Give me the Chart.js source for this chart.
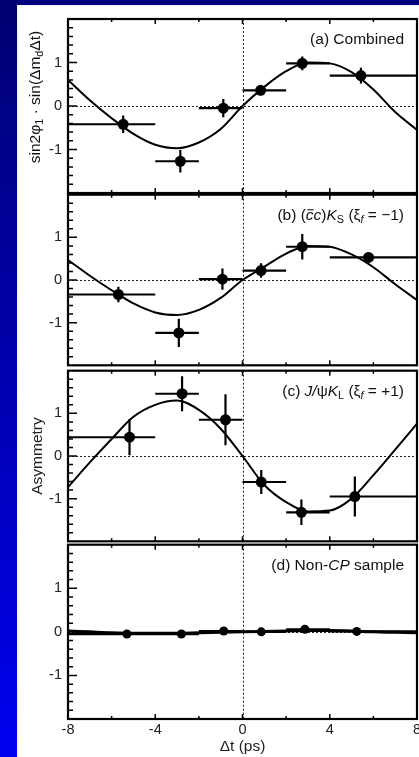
<!DOCTYPE html>
<html>
<head>
<meta charset="utf-8">
<script src="https://cdn.jsdelivr.net/npm/chart.js@4.4.1/dist/chart.umd.min.js"></script>
<style>
  html, body { margin: 0; padding: 0; width: 419px; height: 757px; overflow: hidden; background: #fff; }
  #strip-top { position: absolute; left: 0; top: 0; width: 419px; height: 5px; background: #000080; }
  #strip-left { position: absolute; left: 0; top: 0; width: 17px; height: 757px; background: linear-gradient(#000072, #0000f0); }
  canvas { position: absolute; left: 0; }
</style>
</head>
<body>
<div id="strip-top"></div>
<div id="strip-left"></div>
<canvas id="pa" width="430" height="210" style="top:0px"></canvas>
<canvas id="pb" width="430" height="200" style="top:180px"></canvas>
<canvas id="pc" width="430" height="200" style="top:356px"></canvas>
<canvas id="pd" width="430" height="227" style="top:530px"></canvas>
<script>
// Δt bins (ps), same for all four samples
const binLo = [-8, -4, -2, 0, 2, 4];
const binHi = [-4, -2, 0, 2, 4, 8];
const yTicks = [-1, 0, 1];
const xTicks = [-8, -4, 0, 4, 8];

// (a) combined
const combinedX = [-5.47, -2.85, -0.88, 0.83, 2.74, 5.43];
const combinedY = [-0.42, -1.27, -0.05, 0.36, 0.98, 0.70];
const combinedErr = [0.20, 0.26, 0.21, 0.11, 0.16, 0.18];

// (b) (cc)Ks
const ksX = [-5.69, -2.92, -0.92, 0.85, 2.74, 5.78];
const ksY = [-0.34, -1.24, 0.02, 0.22, 0.78, 0.53];
const ksErr = [0.18, 0.33, 0.25, 0.17, 0.30, 0.11];

// (c) J/psi KL
const klX = [-5.18, -2.77, -0.78, 0.86, 2.70, 5.15];
const klY = [0.44, 1.46, 0.85, -0.61, -1.32, -0.95];
const klErr = [0.42, 0.41, 0.60, 0.28, 0.30, 0.47];

// (d) non-CP control sample
const nonCpX = [-5.30, -2.80, -0.86, 0.86, 2.86, 5.24];
const nonCpY = [-0.05, -0.05, 0.02, 0.00, 0.06, 0.01];
const nonCpErr = [0.03, 0.03, 0.03, 0.03, 0.03, 0.03];

// fit curves at whole ps
const curveT = [-8, -7, -6, -5, -4, -3, -2, -1, 0, 1, 2, 3, 4, 5, 6, 7, 8];
const combinedFit = [0.60, 0.13, -0.28, -0.64, -0.89, -0.97, -0.84, -0.53, 0, 0.44, 0.80, 1.00, 0.98, 0.78, 0.38, -0.14, -0.55];
const ksFit = [0.47, 0.10, -0.24, -0.55, -0.76, -0.82, -0.70, -0.42, 0, 0.31, 0.62, 0.80, 0.78, 0.60, 0.30, -0.10, -0.47];
const klFit = [-0.73, -0.15, 0.40, 0.92, 1.20, 1.30, 1.08, 0.64, 0, -0.68, -1.08, -1.30, -1.28, -1.00, -0.45, 0.15, 0.76];
const nonCpFit = [0.02, 0.00, -0.02, -0.03, -0.03, -0.03, -0.02, -0.01, 0, 0.01, 0.02, 0.03, 0.03, 0.02, 0.00, -0.01, -0.02];

const FONT = '"Liberation Sans", Arial, Helvetica, sans-serif';
const TXT = 15.5;

const labelA = [{ t: '(a) Combined' }];
const labelB = [{ t: '(b) (' }, { t: 'c', it: true, bar: true }, { t: 'c', it: true }, { t: ')' }, { t: 'K', it: true }, { t: 'S', sub: true },
  { t: ' (' }, { t: 'ξ' }, { t: 'f', it: true, sub: true }, { t: ' = −1)' }];
const labelC = [{ t: '(c) ' }, { t: 'J/', it: true }, { t: 'ψ' }, { t: 'K', it: true }, { t: 'L', sub: true },
  { t: ' (' }, { t: 'ξ' }, { t: 'f', it: true, sub: true }, { t: ' = +1)' }];
const labelD = [{ t: '(d) Non-' }, { t: 'CP', it: true }, { t: ' sample' }];
const titleA = [{ t: 'sin2φ' }, { t: '1', sub: true }, { t: ' · sin(Δm' }, { t: 'd', sub: true }, { t: 'Δt)' }];

function drawRuns(ctx, runs, x, y, align, size) {
  const fontOf = r => (r.it ? 'italic ' : '') + (r.sub ? size * 0.7 : size) + 'px ' + FONT;
  let w = 0;
  runs.forEach(r => { ctx.font = fontOf(r); r.w = ctx.measureText(r.t).width; w += r.w; });
  let cx = align === 'right' ? x - w : align === 'center' ? x - w / 2 : x;
  ctx.textAlign = 'left';
  ctx.textBaseline = 'alphabetic';
  runs.forEach(r => {
    ctx.font = fontOf(r);
    ctx.fillText(r.t, cx, y + (r.sub ? size * 0.22 : 0));
    if (r.bar) {
      ctx.beginPath();
      ctx.lineWidth = 1;
      ctx.moveTo(cx + 1.5, y - size * 0.64);
      ctx.lineTo(cx + r.w, y - size * 0.64);
      ctx.stroke();
    }
    cx += r.w;
  });
}

function panelPlugin(p) {
  return {
    id: 'panel_' + p.key,
    beforeDatasetsDraw(chart) {
      const { ctx, chartArea: a, scales: { x, y } } = chart;
      ctx.save();
      // dotted zero lines
      const y0 = Math.round(y.getPixelForValue(0)) + 0.5;
      const x0 = Math.round(x.getPixelForValue(0)) + 0.5;
      ctx.strokeStyle = '#222';
      ctx.lineWidth = 1;
      ctx.setLineDash([2, 2]);
      ctx.beginPath();
      ctx.moveTo(a.left, y0); ctx.lineTo(a.right, y0);
      ctx.moveTo(x0, a.top); ctx.lineTo(x0, a.bottom);
      ctx.stroke();
      ctx.setLineDash([]);
      // error bars
      ctx.strokeStyle = '#000';
      ctx.lineWidth = 2.2;
      ctx.beginPath();
      p.x.forEach((t, i) => {
        const py = y.getPixelForValue(p.y[i]);
        ctx.moveTo(x.getPixelForValue(binLo[i]), py);
        ctx.lineTo(x.getPixelForValue(binHi[i]), py);
        const px = x.getPixelForValue(t);
        ctx.moveTo(px, y.getPixelForValue(p.y[i] + p.err[i]));
        ctx.lineTo(px, y.getPixelForValue(p.y[i] - p.err[i]));
      });
      ctx.stroke();
      ctx.restore();
    },
    afterDraw(chart) {
      const { ctx, chartArea: a, scales: { x, y } } = chart;
      ctx.save();
      ctx.strokeStyle = '#000';
      ctx.fillStyle = '#111';
      // ticks pointing inward
      ctx.lineWidth = 1.5;
      ctx.beginPath();
      for (let i = -9; i <= 9; i++) {
        const py = y.getPixelForValue(i / 5);
        const len = i % 5 === 0 ? 9 : 5;
        ctx.moveTo(a.left, py); ctx.lineTo(a.left + len, py);
      }
      for (let v = -6; v <= 6; v += 2) {
        const px = x.getPixelForValue(v);
        const len = v % 4 === 0 ? 5 : 3;
        ctx.moveTo(px, a.top); ctx.lineTo(px, a.top + len);
        ctx.moveTo(px, a.bottom); ctx.lineTo(px, a.bottom - len);
      }
      ctx.stroke();
      // frame
      ctx.lineWidth = 2.2;
      ctx.strokeRect(a.left, a.top, a.right - a.left, a.bottom - a.top);
      // panel label
      drawRuns(ctx, p.label, a.right - 13, a.top + 25, 'right', TXT);
      if (p.ytitle) {
        ctx.translate(39.5, (a.top + a.bottom) / 2 - 9);
        ctx.rotate(-Math.PI / 2);
        drawRuns(ctx, p.ytitle, 0, 0, 'center', TXT);
      }
      ctx.restore();
    }
  };
}

const panels = [
  { key: 'a', canvas: 'pa', padTop: 19, padBottom: 17, x: combinedX, y: combinedY, err: combinedErr, fit: combinedFit, r: 5.5, lw: 2, label: labelA, ytitle: titleA },
  { key: 'b', canvas: 'pb', padTop: 13, padBottom: 11, x: ksX, y: ksY, err: ksErr, fit: ksFit, r: 5.5, lw: 2, label: labelB },
  { key: 'c', canvas: 'pc', padTop: 13, padBottom: 12, x: klX, y: klY, err: klErr, fit: klFit, r: 5.5, lw: 2, label: labelC, yname: 'Asymmetry' },
  { key: 'd', canvas: 'pd', padTop: 14, padBottom: 0, x: nonCpX, y: nonCpY, err: nonCpErr, fit: nonCpFit, r: 4.5, lw: 3, label: labelD, bottomAxis: true }
];

panels.forEach(p => {
  const xScale = p.bottomAxis ? {
    type: 'linear', min: -8, max: 8,
    afterBuildTicks: s => { s.ticks = xTicks.map(v => ({ value: v })); },
    afterFit: s => { s.height = 38; },
    grid: { display: false, drawTicks: false },
    border: { display: false },
    ticks: { padding: 2, color: '#222', font: { size: 14.5, family: FONT }, callback: v => String(v), maxRotation: 0 },
    title: { display: true, text: 'Δt (ps)', color: '#222', font: { size: TXT, family: FONT }, padding: { top: 0, bottom: 1 } }
  } : { type: 'linear', min: -8, max: 8, display: false };

  new Chart(document.getElementById(p.canvas), {
    type: 'scatter',
    data: {
      datasets: [
        {
          data: p.x.map((t, i) => ({ x: t, y: p.y[i] })),
          pointRadius: p.r,
          pointBackgroundColor: '#000',
          pointBorderColor: '#000',
          pointBorderWidth: 0,
          showLine: false
        },
        {
          data: curveT.map((t, i) => ({ x: t, y: p.fit[i] })),
          showLine: true,
          pointRadius: 0,
          borderColor: '#000',
          borderWidth: p.lw,
          cubicInterpolationMode: 'monotone',
          fill: false
        }
      ]
    },
    options: {
      responsive: false,
      animation: false,
      events: [],
      layout: { padding: { left: 0, right: 13, top: p.padTop, bottom: p.padBottom } },
      plugins: { legend: { display: false }, tooltip: { enabled: false } },
      scales: {
        x: xScale,
        y: {
          type: 'linear', min: -2, max: 2,
          afterBuildTicks: s => { s.ticks = yTicks.map(v => ({ value: v })); },
          afterFit: s => { s.width = 68; },
          grid: { display: false, drawTicks: false },
          border: { display: false },
          ticks: { padding: 6, color: '#222', font: { size: 14.5, family: FONT }, callback: v => String(v) },
          title: p.yname ? { display: true, text: p.yname, color: '#222', font: { size: TXT, family: FONT }, padding: { top: 28, bottom: 0 } } : { display: false }
        }
      }
    },
    plugins: [panelPlugin(p)]
  });
});
</script>
</body>
</html>
